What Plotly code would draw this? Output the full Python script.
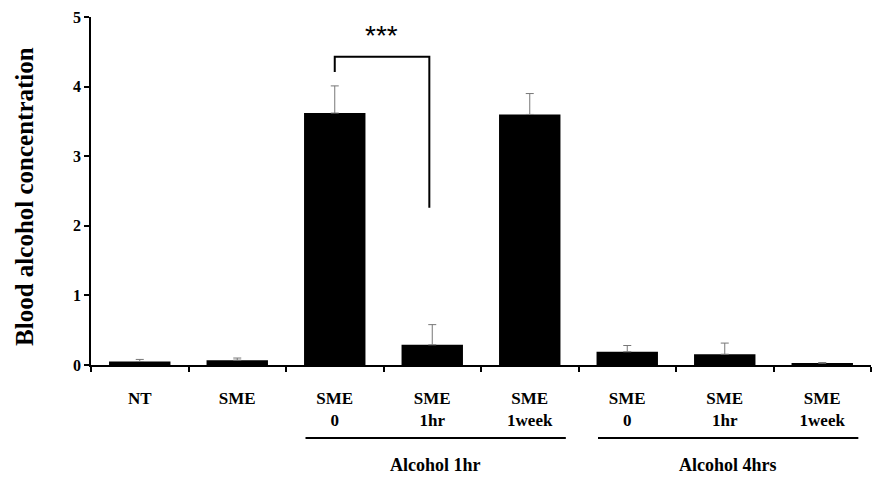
import plotly.graph_objects as go

categories = ["NT", "SME", "SME<br>0", "SME<br>1hr", "SME<br>1week", "SME<br>0", "SME<br>1hr", "SME<br>1week"]
values = [0.05, 0.07, 3.62, 0.29, 3.60, 0.19, 0.155, 0.025]
errors = [0.03, 0.03, 0.39, 0.29, 0.30, 0.09, 0.16, 0.01]
groups = ["Alcohol 1hr", "Alcohol 4hrs"]
group_spans = [(2, 4), (5, 7)]
y_ticks = [0, 1, 2, 3, 4, 5]
y_title = "Blood alcohol concentration"

xs = list(range(len(categories)))
serif = "Liberation Serif"

fig = go.Figure()
fig.add_trace(go.Bar(
    x=xs, y=values,
    marker=dict(color="black", line=dict(width=0)),
    width=0.63,
    error_y=dict(type="data", symmetric=False, array=errors, arrayminus=[0] * len(errors),
                 color="#777777", thickness=1, width=4),
    showlegend=False,
))

shapes = []
annotations = []
# significance bracket between SME 0 and SME 1hr (Alcohol 1hr)
b_top = 4.43
shapes.append(dict(type="path", xref="x", yref="y",
                   path=f"M {xs[2]},{4.21} L {xs[2]},{b_top} L {xs[3] - 0.03},{b_top} L {xs[3] - 0.03},{2.26}",
                   line=dict(color="black", width=2)))
annotations.append(dict(x=(xs[2] + xs[3]) / 2 - 0.02, y=4.74, xref="x", yref="y", text="***",
                        showarrow=False, yanchor="middle",
                        font=dict(family="Liberation Sans", size=28, color="black")))

for name, (a, b) in zip(groups, group_spans):
    shapes.append(dict(type="line", xref="x", yref="paper", x0=a - 0.3, x1=b + 0.37, y0=-0.21, y1=-0.21,
                       line=dict(color="black", width=2)))
    annotations.append(dict(x=(a + b) / 2 + 0.03, y=-0.288, xref="x", yref="paper", text=f"<b>{name}</b>",
                            showarrow=False, yanchor="middle",
                            font=dict(family=serif, size=18, color="black")))

annotations.append(dict(x=-0.085, y=0.485, xref="paper", yref="paper", text=f"<b>{y_title}</b>",
                        textangle=-90, showarrow=False, xanchor="center", yanchor="middle",
                        font=dict(family=serif, size=25, color="black")))

fig.update_layout(
    width=876, height=476,
    margin=dict(l=83, r=13, t=9, b=119, autoexpand=False),
    plot_bgcolor="white", paper_bgcolor="white",
    shapes=shapes, annotations=annotations,
    font=dict(family=serif, color="black"),
)
fig.update_xaxes(
    automargin=False,
    range=[-0.5, len(categories) - 0.5],
    tickvals=xs, ticktext=[f"<b>{c}</b>" for c in categories],
    ticks="", tickfont=dict(family=serif, size=17, color="black"),
    showline=True, linecolor="black", linewidth=1.5, showgrid=False, zeroline=False,
    ticklabelstandoff=17,
    minor=dict(tickvals=[i - 0.5 for i in range(len(categories) + 1)], ticks="outside",
               ticklen=5, tickcolor="black", tickwidth=1.5),
)
fig.update_yaxes(
    automargin=False,
    range=[0, 5], tickvals=y_ticks, ticktext=[f"<b>{t}</b>" for t in y_ticks],
    ticks="outside", ticklen=5, tickcolor="black", tickwidth=1.5,
    tickfont=dict(family=serif, size=16, color="black"),
    ticklabeloverflow="allow",
    showline=True, linecolor="black", linewidth=1.5, showgrid=False, zeroline=False,
)

fig.write_html("out.html")
